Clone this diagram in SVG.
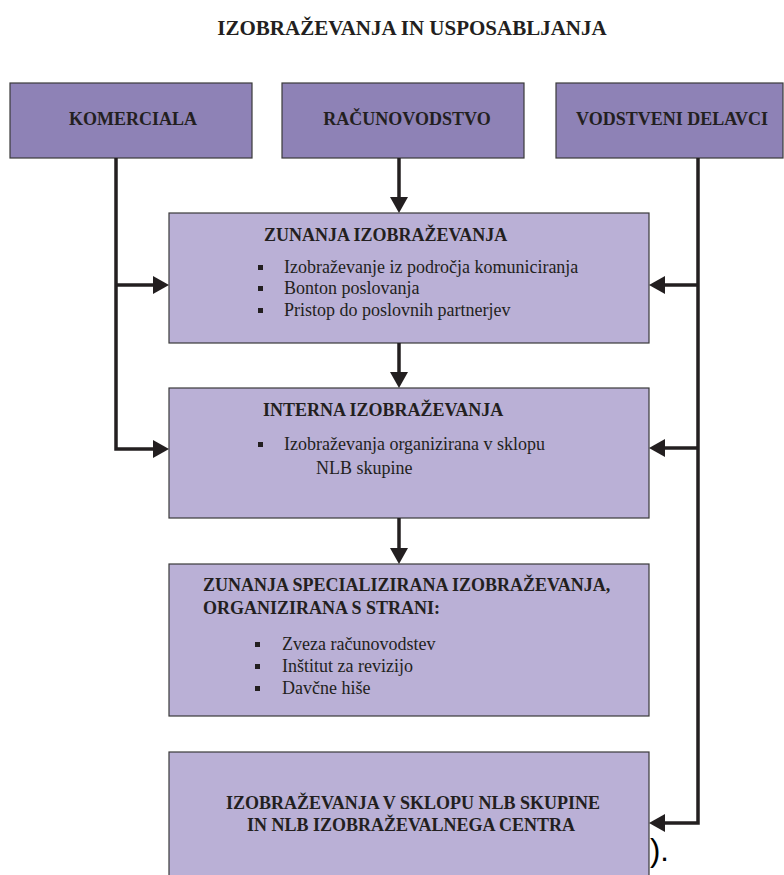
<svg xmlns="http://www.w3.org/2000/svg" width="784" height="875" viewBox="0 0 784 875">
  <style>
    .top { fill: #8E82B6; stroke: #3a3a3a; stroke-width: 1.2; }
    .box { fill: #BAB0D6; stroke: #3a3a3a; stroke-width: 1.2; }
    .h { font-family: "Liberation Serif", "Times New Roman", serif; font-weight: bold; font-size: 18px; fill: #231F20; }
    .t { font-family: "Liberation Serif", "Times New Roman", serif; font-size: 18px; fill: #231F20; }
    .b { fill: #231F20; }
    .ln { stroke: #231F20; stroke-width: 3.5; fill: none; }
    .ah { fill: #231F20; }
  </style>

  <text x="412" y="35" text-anchor="middle" class="h" style="font-size:21px">IZOBRAŽEVANJA IN USPOSABLJANJA</text>

  <g id="komerciala">
    <rect class="top" x="10" y="83" width="242" height="75"/>
    <text class="h" x="133" y="125" text-anchor="middle">KOMERCIALA</text>
  </g>
  <g id="racunovodstvo">
    <rect class="top" x="282" y="83" width="242" height="75"/>
    <text class="h" x="407" y="125" text-anchor="middle">RAČUNOVODSTVO</text>
  </g>
  <g id="vodstveni">
    <rect class="top" x="556" y="83" width="227" height="75"/>
    <text class="h" x="672" y="125" text-anchor="middle">VODSTVENI DELAVCI</text>
  </g>

  <g id="zunanja">
    <rect class="box" x="169" y="213" width="480" height="130"/>
    <text class="h" x="264" y="241">ZUNANJA IZOBRAŽEVANJA</text>
    <rect class="b" x="258" y="265" width="5" height="5"/>
    <text class="t" x="284" y="273">Izobraževanje iz področja komuniciranja</text>
    <rect class="b" x="258" y="286" width="5" height="5"/>
    <text class="t" x="284" y="294">Bonton poslovanja</text>
    <rect class="b" x="258" y="308" width="5" height="5"/>
    <text class="t" x="284" y="316">Pristop do poslovnih partnerjev</text>
  </g>

  <g id="interna">
    <rect class="box" x="169" y="388" width="480" height="130"/>
    <text class="h" x="263" y="416">INTERNA IZOBRAŽEVANJA</text>
    <rect class="b" x="258" y="442" width="5" height="5"/>
    <text class="t" x="284" y="450">Izobraževanja organizirana v sklopu</text>
    <text class="t" x="316" y="474">NLB skupine</text>
  </g>

  <g id="specializirana">
    <rect class="box" x="169" y="564" width="480" height="152"/>
    <text class="h" x="203" y="591">ZUNANJA SPECIALIZIRANA IZOBRAŽEVANJA,</text>
    <text class="h" x="203" y="614">ORGANIZIRANA S STRANI:</text>
    <rect class="b" x="255" y="642" width="5" height="5"/>
    <text class="t" x="282" y="650">Zveza računovodstev</text>
    <rect class="b" x="255" y="664" width="5" height="5"/>
    <text class="t" x="282" y="672">Inštitut za revizijo</text>
    <rect class="b" x="255" y="686" width="5" height="5"/>
    <text class="t" x="282" y="694">Davčne hiše</text>
  </g>

  <g id="nlb">
    <rect class="box" x="169" y="752" width="480" height="130"/>
    <text class="h" x="413" y="809" text-anchor="middle">IZOBRAŽEVANJA V SKLOPU NLB SKUPINE</text>
    <text class="h" x="411" y="831" text-anchor="middle">IN NLB IZOBRAŽEVALNEGA CENTRA</text>
  </g>

  <text x="650" y="861" style="font-family:'Liberation Sans', Arial, sans-serif; font-size:31px; fill:#000">).</text>

  <g id="connectors">
    <path class="ln" d="M116 158 V449 H154"/>
    <path class="ln" d="M116 285 H154"/>
    <path class="ah" d="M169 285 L153 276 L153 294 Z"/>
    <path class="ah" d="M169 449 L153 440 L153 458 Z"/>

    <path class="ln" d="M399 158 V198"/>
    <path class="ah" d="M399 213 L390 197 L408 197 Z"/>
    <path class="ln" d="M399 343 V373"/>
    <path class="ah" d="M399 388 L390 372 L408 372 Z"/>
    <path class="ln" d="M399 518 V549"/>
    <path class="ah" d="M399 564 L390 548 L408 548 Z"/>

    <path class="ln" d="M698 158 V823 H664"/>
    <path class="ln" d="M698 285 H664"/>
    <path class="ln" d="M698 448 H664"/>
    <path class="ah" d="M649 285 L665 276 L665 294 Z"/>
    <path class="ah" d="M649 448 L665 439 L665 457 Z"/>
    <path class="ah" d="M649 823 L665 814 L665 832 Z"/>
  </g>
</svg>
